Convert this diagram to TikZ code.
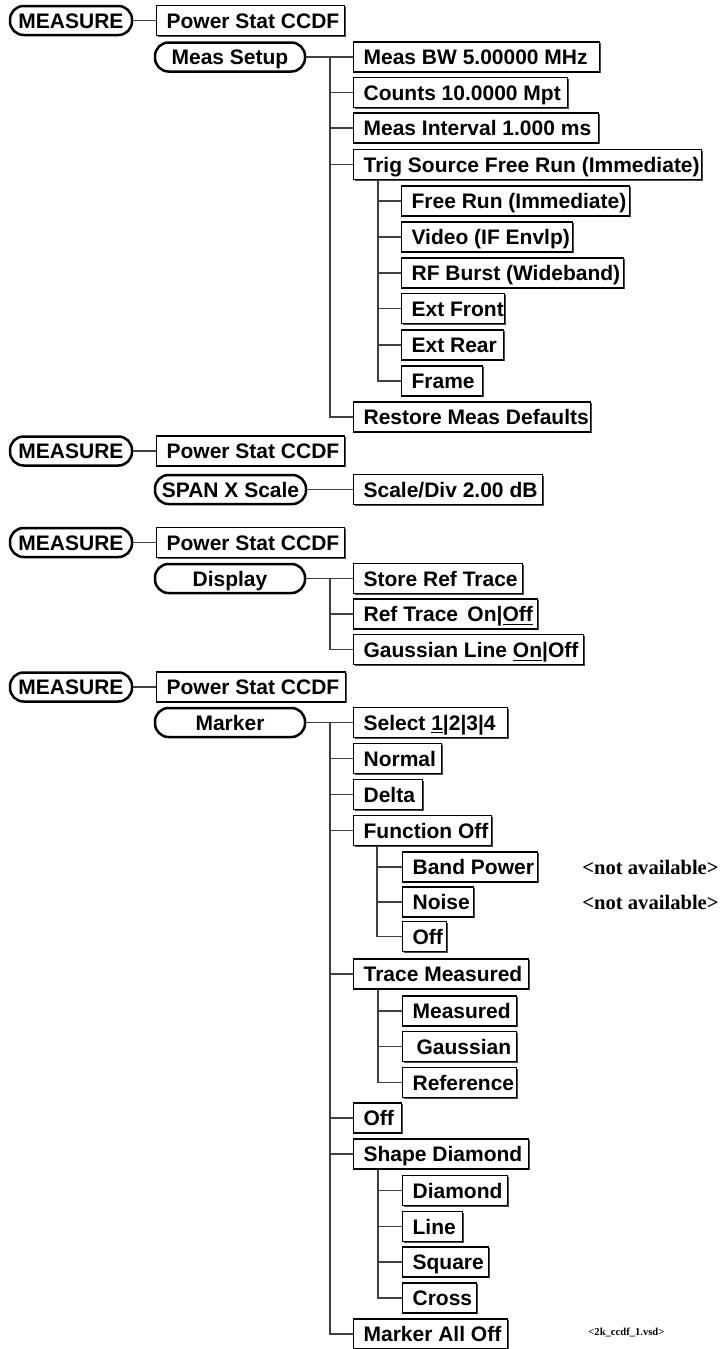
\documentclass[tikz,border=0pt]{standalone}
\usepackage{fontspec}
\setmainfont{Liberation Sans}
\newfontfamily\tmsfont{Liberation Serif}
\usetikzlibrary{shadows}
\newcommand\bxt[2]{\makebox[\dimexpr(#1pt-20pt)/2\relax][l]{#2}}
\tikzset{
  box/.style={draw=black, line width=0.6pt, fill=white, anchor=west,
    inner xsep=5pt, inner ysep=0pt, minimum height=15pt,
    text height=7.5pt, text depth=0pt,
    font=\bfseries\fontsize{10.5}{12}\selectfont,
    drop shadow={shadow xshift=0.5pt, shadow yshift=-0.5pt, fill=black!70, opacity=1}},
  btn/.style={draw=black, line width=1.25pt, rounded corners=6.8pt, fill=white,
    inner sep=0pt, minimum height=14.5pt, minimum width=#1,
    text height=7.5pt, text depth=0pt,
    font=\bfseries\fontsize{10.5}{12}\selectfont},
  conn/.style={draw=black!75, line width=0.6pt},
  note/.style={anchor=west, inner sep=0pt, font=\tmsfont\bfseries\fontsize{10.3}{12}\selectfont},
}
\begin{document}
\begin{tikzpicture}[x=0.5pt, y=-0.5pt]
\useasboundingbox (0,0) rectangle (720,1349);

% ---------- Section 1 ----------
\node[btn=61pt] (m1) at (71,20.5) {MEASURE};
\node[box] (ps1) at (156,20.5) {\bxt{188}{Power Stat CCDF}};
\draw[conn] (m1.east) -- (ps1.west);
\node[btn=75pt] (ms) at (230,57) {Meas Setup};
\node[box] (bw) at (353,57) {\bxt{246}{Meas BW 5.00000 MHz}};
\node[box] (cnt) at (353,92.5) {\bxt{214}{Counts 10.0000 Mpt}};
\node[box] (mi) at (353,128) {\bxt{245}{Meas Interval 1.000 ms}};
\node[box] (trig) at (353,164.5) {\bxt{348}{Trig Source Free Run (Immediate)}};
\node[box] (fr) at (401,201) {\bxt{228}{Free Run (Immediate)}};
\node[box] (vid) at (401,237) {\bxt{171}{Video (IF Envlp)}};
\node[box] (rfb) at (401,273) {\bxt{222}{RF Burst (Wideband)}};
\node[box] (ef) at (401,308.5) {\bxt{103}{Ext Front}};
\node[box] (er) at (401,345) {\bxt{102}{Ext Rear}};
\node[box] (frm) at (401,381) {\bxt{81}{Frame}};
\node[box] (rst) at (353,417) {\bxt{237}{Restore Meas Defaults}};
\draw[conn] (ms.east) -- (bw.west);
\coordinate (t1) at (330,57);
\foreach \c in {cnt,mi,trig,rst} \draw[conn] (t1) |- (\c.west);
\path (trig.south west) ++(25,0) coordinate (t1s);
\foreach \c in {fr,vid,rfb,ef,er,frm} \draw[conn] (t1s) |- (\c.west);

% ---------- Section 2 ----------
\node[btn=61pt] (m2) at (71,451) {MEASURE};
\node[box] (ps2) at (156,451) {\bxt{188}{Power Stat CCDF}};
\draw[conn] (m2.east) -- (ps2.west);
\node[btn=75.5pt] (span) at (230.5,489.5) {SPAN X Scale};
\node[box] (sdv) at (353,489.5) {\bxt{189}{Scale/Div 2.00 dB}};
\draw[conn] (span.east) -- (sdv.west);

% ---------- Section 3 ----------
\node[btn=61pt] (m3) at (71,542.5) {MEASURE};
\node[box] (ps3) at (156,542.5) {\bxt{188}{Power Stat CCDF}};
\draw[conn] (m3.east) -- (ps3.west);
\node[btn=75pt] (disp) at (230,578.5) {Display};
\node[box] (srt) at (353,578.5) {\bxt{169}{Store Ref Trace}};
\node[box] (rto) at (353,614) {\bxt{184}{Ref Trace\ \,On|\underline{Off}}};
\node[box] (glo) at (353,649.5) {\bxt{230}{Gaussian Line \underline{On}|Off}};
\draw[conn] (disp.east) -- (srt.west);
\coordinate (t3) at (330,578.5);
\foreach \c in {rto,glo} \draw[conn] (t3) |- (\c.west);

% ---------- Section 4 ----------
\node[btn=61pt] (m4) at (71,687) {MEASURE};
\node[box] (ps4) at (156,687) {\bxt{189}{Power Stat CCDF}};
\draw[conn] (m4.east) -- (ps4.west);
\node[btn=75pt] (mk) at (230,722.5) {Marker};
\node[box] (sel) at (353,722.5) {\bxt{154}{Select \underline{1}|2|3|4}};
\node[box] (nrm) at (353,758.5) {\bxt{88}{Normal}};
\node[box] (dlt) at (353,794.5) {\bxt{69}{Delta}};
\node[box] (fo) at (353,830.5) {\bxt{138}{Function Off}};
\node[box] (bp) at (402,867) {\bxt{135}{Band Power}};
\node[box] (noi) at (402,902) {\bxt{71}{Noise}};
\node[box] (off1) at (402,936.5) {\bxt{44}{Off}};
\node[note] (na1) at (582,867) {<not available>};
\node[note] (na2) at (582,902) {<not available>};
\node[box] (tm) at (353,974) {\bxt{175}{Trace Measured}};
\node[box] (mea) at (402,1011) {\bxt{114}{Measured}};
\node[box] (gau) at (402,1046.5) {\bxt{114}{\hspace{2pt}Gaussian}};
\node[box] (ref) at (402,1082.5) {\bxt{114}{Reference}};
\node[box] (off2) at (353,1118) {\bxt{48}{Off}};
\node[box] (shd) at (353,1154) {\bxt{175}{Shape Diamond}};
\node[box] (dia) at (402,1190.5) {\bxt{105}{Diamond}};
\node[box] (lin) at (402,1226.5) {\bxt{60}{Line}};
\node[box] (sq) at (402,1262) {\bxt{86}{Square}};
\node[box] (crs) at (402,1298) {\bxt{74}{Cross}};
\node[box] (mao) at (353,1334) {\bxt{154}{Marker All Off}};
\node[anchor=west, inner sep=0pt, font=\tmsfont\bfseries\fontsize{5.3}{6}\selectfont] (vsd) at (588,1332) {<2k\_ccdf\_1.vsd>};
\draw[conn] (mk.east) -- (sel.west);
\coordinate (t4) at (330,722.5);
\foreach \c in {nrm,dlt,fo,tm,off2,shd,mao} \draw[conn] (t4) |- (\c.west);
\path (fo.south west) ++(24,0) coordinate (t4a);
\foreach \c in {bp,noi,off1} \draw[conn] (t4a) |- (\c.west);
\path (tm.south west) ++(25,0) coordinate (t4b);
\foreach \c in {mea,gau,ref} \draw[conn] (t4b) |- (\c.west);
\path (shd.south west) ++(25,0) coordinate (t4c);
\foreach \c in {dia,lin,sq,crs} \draw[conn] (t4c) |- (\c.west);
\end{tikzpicture}
\end{document}
